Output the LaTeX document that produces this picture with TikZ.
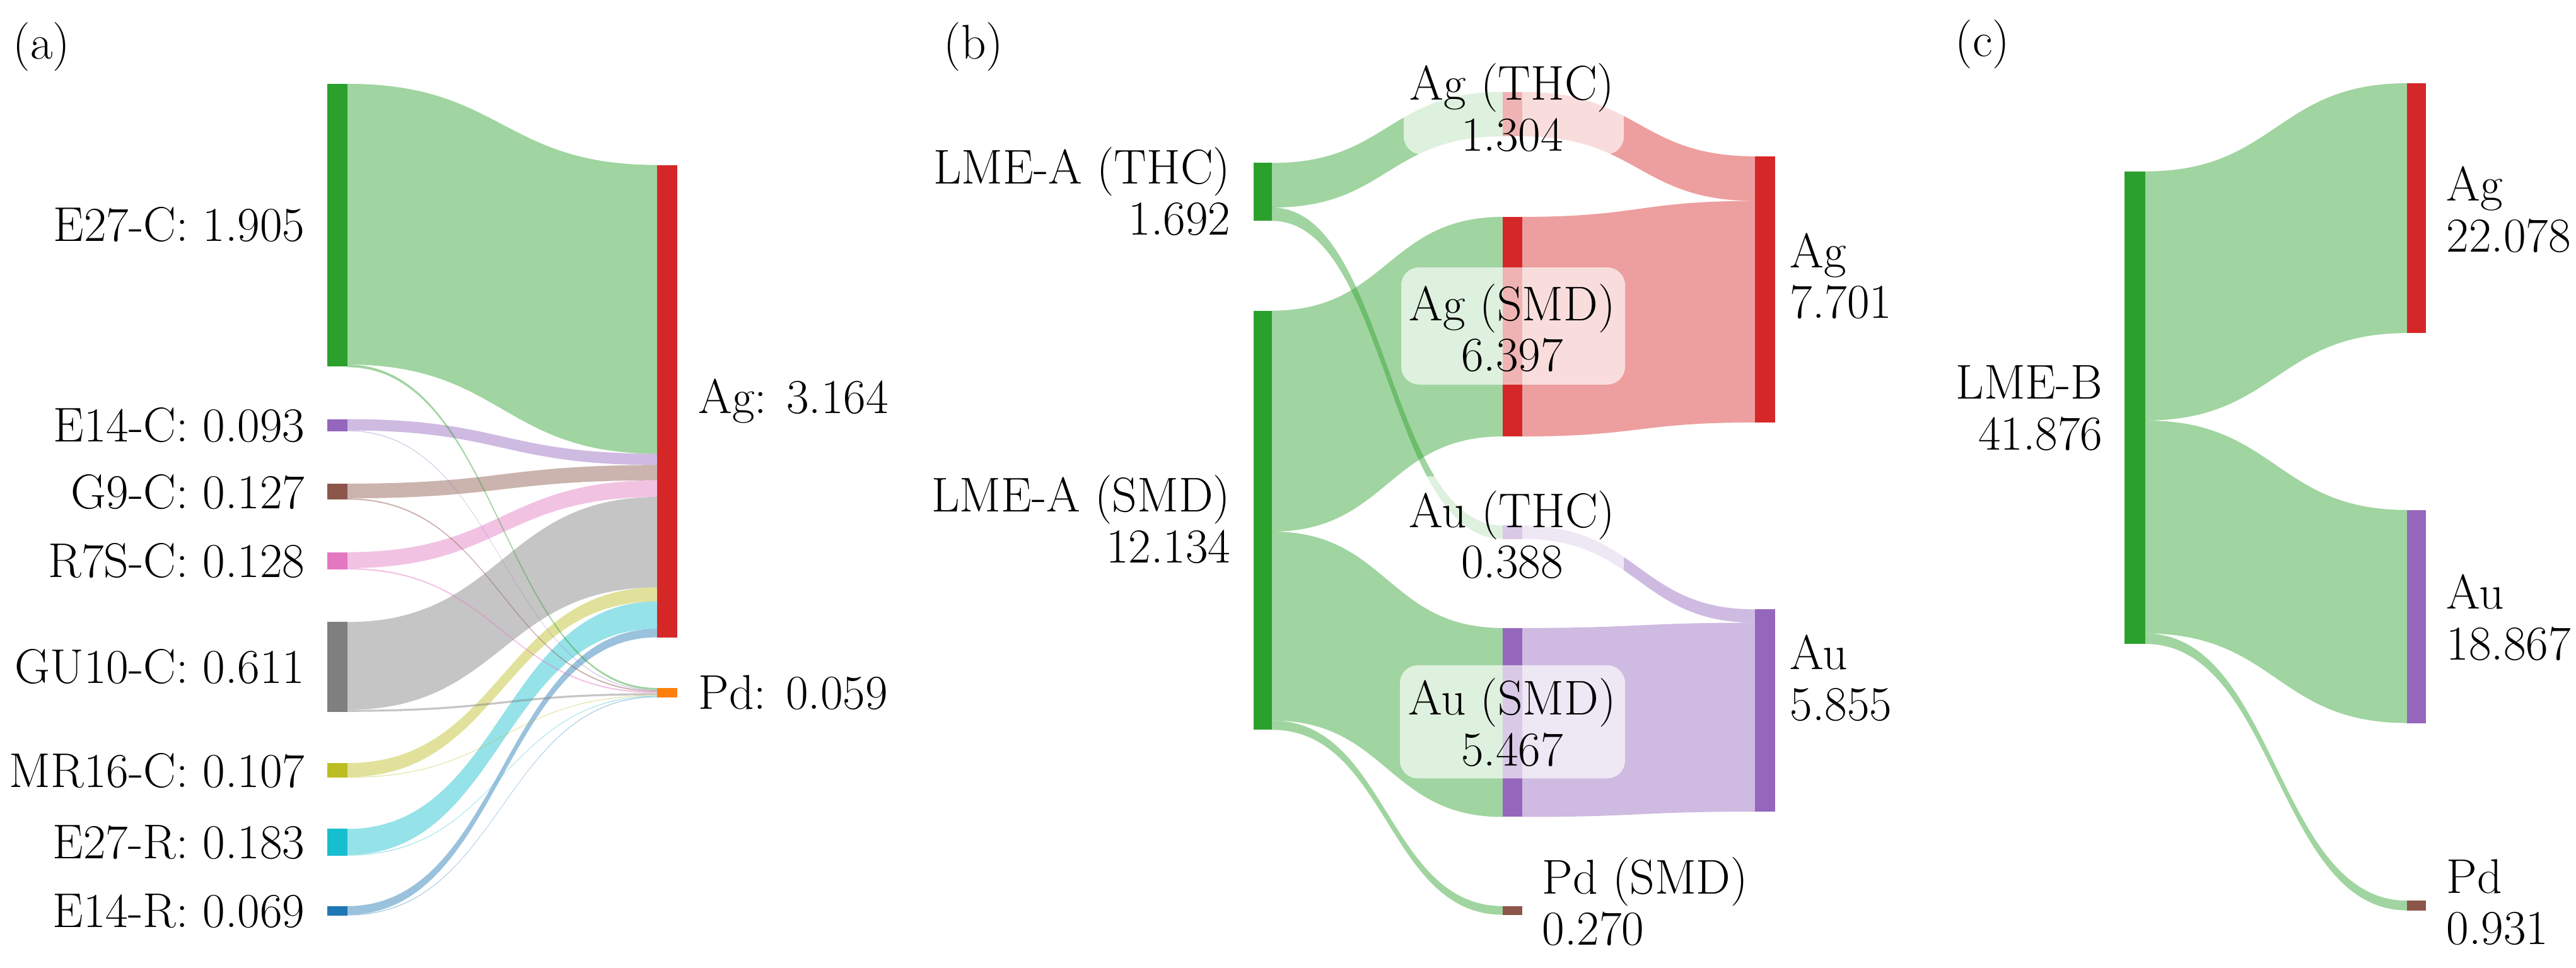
\documentclass[tikz,border=0pt]{standalone}
\usetikzlibrary{positioning}
\definecolor{cgreen}{HTML}{2CA02C}
\definecolor{cred}{HTML}{D62728}
\definecolor{cpurple}{HTML}{9467BD}
\definecolor{cbrown}{HTML}{8C564B}
\definecolor{cpink}{HTML}{E377C2}
\definecolor{cgray}{HTML}{7F7F7F}
\definecolor{colive}{HTML}{BCBD22}
\definecolor{ccyan}{HTML}{17BECF}
\definecolor{cblue}{HTML}{1F77B4}
\definecolor{corange}{HTML}{FF7F0E}

% band from (x1,t1..b1) to (x2,t2..b2)
\newcommand{\band}[7]{%
  \pgfmathsetmacro{\xm}{(#1+#4)/2}
  \fill[#7] (#1,#2) .. controls (\xm,#2) and (\xm,#5) .. (#4,#5) -- (#4,#6)
    .. controls (\xm,#6) and (\xm,#3) .. (#1,#3) -- cycle;}
% node bar
\newcommand{\nodebar}[5]{\fill[#5] (#1,#3) rectangle (#2,#4);}

\begin{document}
\begin{tikzpicture}[x=0.01cm,y=-0.01055cm,
    lbl/.style={font=\fontsize{22}{23}\selectfont,inner sep=0pt},
    lbox/.style={fill=white,opacity=.65,rounded corners=8pt},
    fl/.style={#1,opacity=.45}]
  \useasboundingbox (0,0) rectangle (4085,1455);

  % ---------------- (a)
  \node[lbl,anchor=west] (pa) at (20,70) {(a)};
  \band{551}{126}{548}{1042}{248}{682}{fl=cgreen}
  \band{551}{630}{647}{1042}{682}{699}{fl=cpurple}
  \band{551}{727}{749}{1042}{699}{722}{fl=cbrown}
  \band{551}{830}{854}{1042}{722}{747}{fl=cpink}
  \band{551}{935}{1067}{1042}{747}{883}{fl=cgray}
  \band{551}{1147}{1168}{1042}{883}{904}{fl=colive}
  \band{551}{1246}{1285}{1042}{904}{945}{fl=ccyan}
  \band{551}{1362}{1375}{1042}{945}{958}{fl=cblue}
  % thin bands to Pd
  \band{551}{548}{552}{1042}{1034}{1037}{fl=cgreen}
  \band{551}{647}{648}{1042}{1037}{1038}{fl=cpurple}
  \band{551}{749}{751}{1042}{1038}{1040}{fl=cbrown}
  \band{551}{854}{856}{1042}{1040}{1042}{fl=cpink}
  \band{551}{1067}{1070}{1042}{1042}{1045}{fl=cgray}
  \band{551}{1168}{1169}{1042}{1045}{1046}{fl=colive}
  \band{551}{1285}{1286}{1042}{1046}{1047}{fl=ccyan}
  \band{551}{1375}{1376}{1042}{1047}{1048}{fl=cblue}
  \nodebar{519}{551}{126}{551}{cgreen}
  \nodebar{519}{551}{630}{648}{cpurple}
  \nodebar{519}{551}{727}{751}{cbrown}
  \nodebar{519}{551}{830}{856}{cpink}
  \nodebar{519}{551}{935}{1070}{cgray}
  \nodebar{519}{551}{1147}{1169}{colive}
  \nodebar{519}{551}{1246}{1286}{ccyan}
  \nodebar{519}{551}{1362}{1376}{cblue}
  \nodebar{1042}{1074}{248}{958}{cred}
  \nodebar{1042}{1074}{1034}{1048}{corange}
  \node[lbl,anchor=east] (e27c) at (484,338) {E27-C: 1.905};
  \node[lbl,anchor=east] (e14c) at (484,639) {E14-C: 0.093};
  \node[lbl,anchor=east] (g9c) at (484,739) {G9-C: 0.127};
  \node[lbl,anchor=east] (r7sc) at (484,843) {R7S-C: 0.128};
  \node[lbl,anchor=east] (gu10c) at (484,1002) {GU10-C: 0.611};
  \node[lbl,anchor=east] (mr16c) at (484,1158) {MR16-C: 0.107};
  \node[lbl,anchor=east] (e27r) at (484,1266) {E27-R: 0.183};
  \node[lbl,anchor=east] (e14r) at (484,1369) {E14-R: 0.069};
  \node[lbl,anchor=west] (aga) at (1107,603) {Ag: 3.164};
  \node[lbl,anchor=west] (pda) at (1107,1041) {Pd: 0.059};

  % ---------------- (b)
  \node[lbl,anchor=west] (pb) at (1496,70) {(b)};
  \band{2017}{245}{312}{2383}{138}{205}{fl=cgreen}
  \band{2017}{312}{332}{2383}{790}{810}{fl=cgreen}
  \band{2017}{467}{799}{2383}{326}{656}{fl=cgreen}
  \band{2017}{799}{1083}{2383}{944}{1228}{fl=cgreen}
  \band{2017}{1083}{1097}{2383}{1362}{1375}{fl=cgreen}
  \band{2414}{138}{205}{2783}{235}{302}{fl=cred}
  \band{2414}{326}{656}{2783}{302}{635}{fl=cred}
  \band{2414}{790}{810}{2783}{916}{936}{fl=cpurple}
  \band{2414}{944}{1228}{2783}{936}{1220}{fl=cpurple}
  \nodebar{1988}{2017}{245}{332}{cgreen}
  \nodebar{1988}{2017}{467}{1097}{cgreen}
  \nodebar{2383}{2414}{138}{205}{cred}
  \nodebar{2383}{2414}{326}{656}{cred}
  \nodebar{2383}{2414}{790}{810}{cpurple}
  \nodebar{2383}{2414}{944}{1228}{cpurple}
  \nodebar{2383}{2414}{1362}{1375}{cbrown}
  \nodebar{2783}{2815}{235}{635}{cred}
  \nodebar{2783}{2815}{916}{1220}{cpurple}
  \fill[lbox] (2226,128) rectangle (2575,232);
  \fill[lbox] (2222,402) rectangle (2577,578);
  \fill[lbox] (2226,716) rectangle (2575,879);
  \fill[lbox] (2220,1000) rectangle (2577,1170);
  \node[lbl,anchor=east,align=right] (thc) at (1952,288) {LME-A (THC)\\1.692};
  \node[lbl,anchor=east,align=right] (smd) at (1952,781) {LME-A (SMD)\\12.134};
  \node[lbl,align=center] (agthc) at (2398,162) {Ag (THC)\\1.304};
  \node[lbl,align=center] (agsmd) at (2398,493) {Ag (SMD)\\6.397};
  \node[lbl,align=center] (authc) at (2398,804) {Au (THC)\\0.388};
  \node[lbl,align=center] (ausmd) at (2398,1086) {Au (SMD)\\5.467};
  \node[lbl,anchor=west,align=left] (pdsmd) at (2445,1355) {Pd (SMD)\\0.270};
  \node[lbl,anchor=west,align=left] (agb) at (2838,415) {Ag\\7.701};
  \node[lbl,anchor=west,align=left] (aub) at (2838,1019) {Au\\5.855};

  % ---------------- (c)
  \begin{scope}[yscale=1.043]
  \node[lbl,anchor=west] (pc) at (3100,64) {(c)};
  \band{3402}{247}{606}{3817}{120}{480}{fl=cgreen}
  \band{3402}{606}{913}{3817}{735}{1042}{fl=cgreen}
  \band{3402}{913}{928}{3817}{1298}{1312}{fl=cgreen}
  \nodebar{3369}{3402}{247}{928}{cgreen}
  \nodebar{3817}{3847}{120}{480}{cred}
  \nodebar{3817}{3847}{735}{1042}{cpurple}
  \nodebar{3817}{3847}{1298}{1312}{cbrown}
  \node[lbl,anchor=east,align=right] (lmeb) at (3335,588) {LME-B\\41.876};
  \node[lbl,anchor=west,align=left] (agc) at (3879,302) {Ag\\22.078};
  \node[lbl,anchor=west,align=left] (auc) at (3879,890) {Au\\18.867};
  \node[lbl,anchor=west,align=left] (pdc) at (3879,1300) {Pd\\0.931};
  \end{scope}
\end{tikzpicture}
\end{document}
